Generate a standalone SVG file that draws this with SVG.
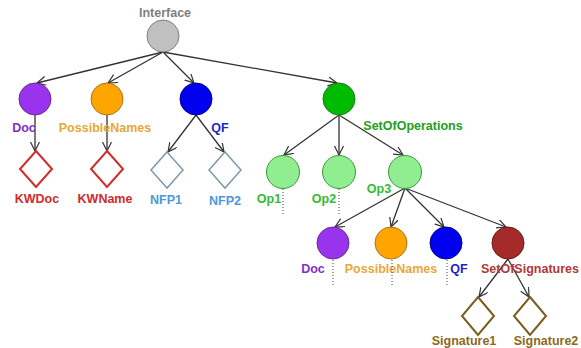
<svg xmlns="http://www.w3.org/2000/svg" width="581" height="348" viewBox="0 0 581 348">
<defs>
<marker id="arr" markerUnits="userSpaceOnUse" markerWidth="11" markerHeight="11" refX="9" refY="4.5" orient="auto">
<path d="M0,0 L9,4.5 L0,9" fill="none" stroke="#333" stroke-width="1.2"/>
</marker>
</defs>
<style>
text{font-family:"Liberation Sans",Arial,sans-serif;font-weight:bold;font-size:12.5px;text-anchor:middle}
.c{stroke-width:1}
.e{stroke:#333;stroke-width:1.3;fill:none;marker-end:url(#arr)}
.d{stroke:#444;stroke-width:1;stroke-dasharray:1,2;fill:none}
.kw{fill:#fff;stroke:#d42a2a;stroke-width:2}
.nfp{fill:#fff;stroke:#7f9aa8;stroke-width:1.5}
.sig{fill:#fff;stroke:#7a5c1e;stroke-width:2}
</style>
<rect width="581" height="348" fill="#fff"/>
<g id="connectors">
<line class="e" x1="163" y1="52" x2="37" y2="83"/>
<line class="e" x1="163" y1="52" x2="108" y2="83"/>
<line class="e" x1="163" y1="52" x2="194" y2="83"/>
<line class="e" x1="163" y1="52" x2="337" y2="83"/>
<line class="e" x1="35" y1="115" x2="35" y2="151"/>
<line class="e" x1="107" y1="115" x2="107" y2="151"/>
<line class="e" x1="196" y1="115" x2="168" y2="152"/>
<line class="e" x1="196" y1="115" x2="224" y2="152"/>
<line class="e" x1="339" y1="115" x2="284" y2="155"/>
<line class="e" x1="339" y1="115" x2="339" y2="155"/>
<line class="e" x1="339" y1="115" x2="403" y2="155"/>
<line class="e" x1="405" y1="188" x2="335" y2="227"/>
<line class="e" x1="405" y1="188" x2="391" y2="227"/>
<line class="e" x1="405" y1="188" x2="444" y2="227"/>
<line class="e" x1="405" y1="188" x2="506" y2="227"/>
<line class="e" x1="508" y1="259" x2="479" y2="297"/>
<line class="e" x1="508" y1="259" x2="529" y2="297"/>
</g>
<g id="interface"><circle class="c" cx="163" cy="36" r="16" fill="#c0c0c0" stroke="#808080"/><text x="165" y="17" fill="#808080">Interface</text></g>
<g id="doc"><circle class="c" cx="35" cy="99" r="16" fill="#9933ee" stroke="#6a2a90"/><text x="24" y="132" fill="#8030c8">Doc</text></g>
<g id="possiblenames"><circle class="c" cx="107" cy="99" r="16" fill="#ffa500" stroke="#b07020"/><text x="105" y="132" fill="#e8a838">PossibleNames</text></g>
<g id="qf"><circle class="c" cx="196" cy="99" r="16" fill="#0000ee" stroke="#00008b"/><text x="220" y="132" fill="#2222cc">QF</text></g>
<g id="setofoperations"><circle class="c" cx="339" cy="99" r="16" fill="#00bb00" stroke="#207a20"/><text x="413" y="130" fill="#22a022">SetOfOperations</text></g>
<g id="kwdoc"><path class="kw" d="M36,151 L52,169 L36,187 L20,169 Z"/><text x="37" y="203" fill="#d42a2a">KWDoc</text></g>
<g id="kwname"><path class="kw" d="M107,151 L123,169 L107,187 L91,169 Z"/><text x="105" y="203" fill="#d42a2a">KWName</text></g>
<g id="nfp1"><path class="nfp" d="M167,152 L183,170 L167,188 L151,170 Z"/><text x="166" y="204" fill="#4a99dd">NFP1</text></g>
<g id="nfp2"><path class="nfp" d="M225,152 L241,170 L225,188 L209,170 Z"/><text x="225" y="205" fill="#4a99dd">NFP2</text></g>
<g id="op1"><circle class="c" cx="283" cy="172" r="16.5" fill="#90ee90" stroke="#3a9a3a"/><text x="269" y="203" fill="#33bb33">Op1</text><line class="d" x1="283" y1="189" x2="283" y2="214"/></g>
<g id="op2"><circle class="c" cx="339" cy="172" r="16.5" fill="#90ee90" stroke="#3a9a3a"/><text x="324" y="203" fill="#33bb33">Op2</text><line class="d" x1="339" y1="189" x2="339" y2="214"/></g>
<g id="op3"><circle class="c" cx="405" cy="172" r="16.5" fill="#90ee90" stroke="#3a9a3a"/><text x="379" y="193" fill="#33bb33">Op3</text></g>
<g id="doc2"><circle class="c" cx="333" cy="243" r="16" fill="#9933ee" stroke="#6a2a90"/><text x="313" y="273" fill="#8030c8">Doc</text><line class="d" x1="333" y1="260" x2="333" y2="287"/></g>
<g id="possiblenames2"><circle class="c" cx="391" cy="243" r="16" fill="#ffa500" stroke="#b07020"/><text x="391" y="273" fill="#e8a838">PossibleNames</text><line class="d" x1="392" y1="260" x2="392" y2="287"/></g>
<g id="qf2"><circle class="c" cx="446" cy="243" r="16" fill="#0000ee" stroke="#00008b"/><text x="459" y="273" fill="#2222cc">QF</text><line class="d" x1="447" y1="260" x2="447" y2="287"/></g>
<g id="setofsignatures"><circle class="c" cx="508" cy="243" r="16" fill="#a52a2a" stroke="#6b1a1a"/><text x="530" y="273" fill="#b03838">SetOfSignatures</text></g>
<g id="signature1"><path class="sig" d="M478,297 L494,316 L478,335 L462,316 Z"/><text x="464" y="345" fill="#8b6a1a">Signature1</text></g>
<g id="signature2"><path class="sig" d="M530,297 L546,316 L530,335 L514,316 Z"/><text x="546" y="345" fill="#8b6a1a">Signature2</text></g>
</svg>
